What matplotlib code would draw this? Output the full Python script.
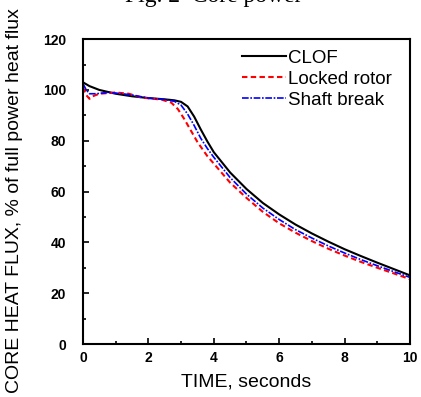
import numpy as np
import matplotlib
matplotlib.use('Agg')
import matplotlib.pyplot as plt
from matplotlib.ticker import MultipleLocator

# dados
t_clof = [0, 0.2, 0.5, 1.0, 1.5, 2.0, 2.5, 2.8, 3.0, 3.2, 3.4, 3.6, 3.8, 4.0, 4.5, 5.0,
          5.5, 6.0, 6.5, 7.0, 7.5, 8.0, 8.5, 9.0, 9.5, 10.0]
v_clof = [103, 101.5, 100, 98.5, 97.5, 96.8, 96.3, 95.9, 95.3, 93.5, 89.5, 84.5, 79.8, 75.5, 67.5, 61,
          55.5, 51, 47, 43.5, 40.3, 37.3, 34.6, 32, 29.5, 27]

t_locked = [0, 0.1, 0.2, 0.3, 0.5, 1.0, 1.4, 1.8, 2.0, 2.4, 2.7, 2.9, 3.1, 3.3, 3.5, 3.8, 4.0,
            4.5, 5.0, 5.5, 6.0, 6.5, 7.0, 7.5, 8.0, 8.5, 9.0, 9.5, 10.0]
v_locked = [101, 98, 96.5, 97.5, 98.5, 99, 98.5, 97, 96.7, 96.2, 95, 92.5, 88.5, 84, 79.5, 74, 71,
            63.5, 57.5, 52, 47.5, 43.8, 40.5, 37.5, 34.8, 32.3, 30, 27.8, 25.5]

t_shaft = [0, 0.1, 0.2, 0.4, 0.8, 1.2, 1.5, 2.0, 2.5, 2.8, 3.0, 3.2, 3.4, 3.6, 3.8, 4.0, 4.5,
           5.0, 5.5, 6.0, 6.5, 7.0, 7.5, 8.0, 8.5, 9.0, 9.5, 10.0]
v_shaft = [102.5, 100, 98.5, 98.5, 99, 98.5, 98, 96.8, 96.2, 95.5, 94, 90.5, 86, 81, 77, 73.5, 65.5,
           59, 53.5, 49, 45, 41.7, 38.6, 35.8, 33.2, 30.8, 28.5, 26.2]

plt.rcParams['font.family'] = ['Liberation Sans', 'DejaVu Sans']

fig = plt.figure(figsize=(4.21, 3.97), dpi=100)
ax = fig.add_axes([0.197, 0.1335, 0.777, 0.768])

ax.plot(t_clof, v_clof, color='black', lw=1.5, label='CLOF')
ax.plot(t_locked, v_locked, color='red', lw=1.5, ls=(0, (2.6, 1.6)), label='Locked rotor')
ax.plot(t_shaft, v_shaft, color='blue', lw=1.2, ls=(0, (4, 1, 1, 1)), label='Shaft break')

ax.set_xlim(0, 10)
ax.set_ylim(0, 120)
ax.xaxis.set_major_locator(MultipleLocator(2))
ax.xaxis.set_minor_locator(MultipleLocator(1))
ax.yaxis.set_major_locator(MultipleLocator(20))
ax.yaxis.set_minor_locator(MultipleLocator(10))
ax.tick_params(which='both', direction='in', top=False, right=False, width=1.2)
ax.tick_params(which='major', length=4, labelsize=10)
ax.tick_params(axis='x', which='major', pad=5)
ax.tick_params(axis='y', which='major', pad=12)
ax.tick_params(which='minor', length=2.5)
for lab in ax.get_xticklabels() + ax.get_yticklabels():
    lab.set_fontweight('bold')
for s in ax.spines.values():
    s.set_linewidth(1.5)

ax.set_xlabel('TIME, seconds', fontsize=14, labelpad=6)
ax.set_ylabel('CORE HEAT FLUX, % of full power heat flux', fontsize=14)
ax.yaxis.set_label_coords(-0.183, 0.472)

ax.legend(loc='upper left', bbox_to_anchor=(0.486, 0.965), frameon=False, fontsize=13.5,
          handlelength=2.35, handletextpad=0.1, labelspacing=0.2, borderpad=0, borderaxespad=0)

fig.text(0.507, 0.995, 'Fig. 2  Core power', ha='center', va='baseline',
         fontsize=17, family='Liberation Serif')

fig.savefig('out.png', dpi=100)
